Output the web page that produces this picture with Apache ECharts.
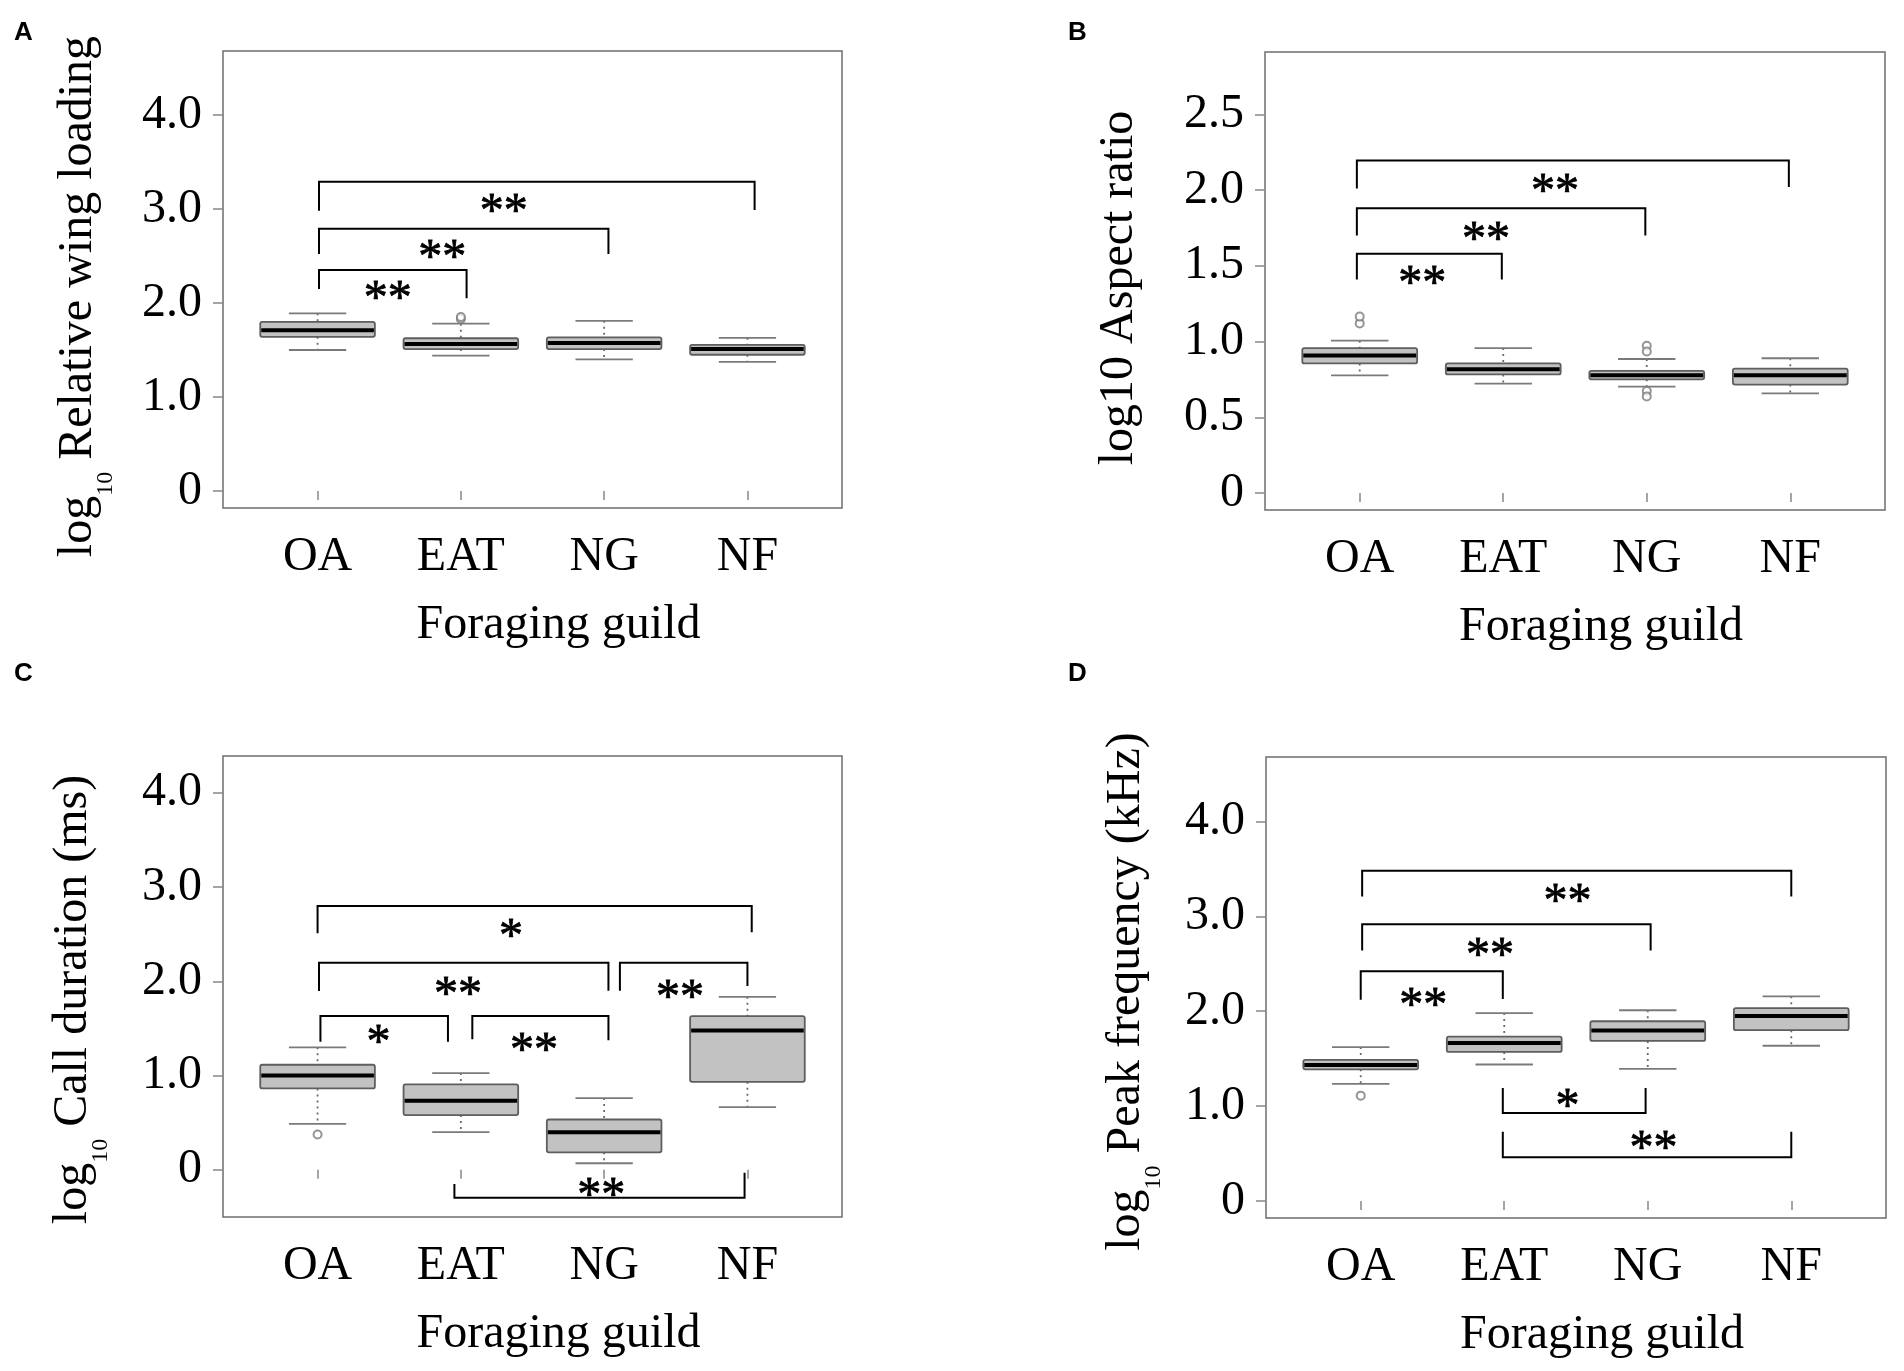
<!DOCTYPE html>
<html>
<head>
<meta charset="utf-8">
<title>Foraging guild boxplots</title>
<script src="https://cdn.jsdelivr.net/npm/echarts@6/dist/echarts.min.js"></script>
<style>
  html, body { margin: 0; padding: 0; background: #fff; }
  #chart { width: 1904px; height: 1371px; }
</style>
</head>
<body>
<div id="chart"></div>
<script>
// categories
const guilds = ['OA', 'EAT', 'NG', 'NF'];

// five-number summaries per guild: [low whisker, Q1, median, Q3, high whisker]
const wingLoading = [
  [1.50, 1.64, 1.71, 1.80, 1.89],
  [1.44, 1.51, 1.565, 1.625, 1.78],
  [1.40, 1.51, 1.575, 1.635, 1.81],
  [1.375, 1.45, 1.51, 1.555, 1.63]
];
const aspectRatio = [
  [0.777, 0.856, 0.908, 0.957, 1.006],
  [0.722, 0.783, 0.818, 0.856, 0.957],
  [0.702, 0.751, 0.777, 0.806, 0.885],
  [0.658, 0.716, 0.777, 0.821, 0.89]
];
const callDuration = [
  [0.488, 0.864, 1.0, 1.115, 1.30],
  [0.40, 0.581, 0.734, 0.906, 1.027],
  [0.07, 0.186, 0.40, 0.534, 0.762],
  [0.665, 0.934, 1.478, 1.631, 1.835]
];
const peakFrequency = [
  [1.235, 1.387, 1.433, 1.488, 1.622],
  [1.438, 1.571, 1.664, 1.733, 1.98],
  [1.392, 1.687, 1.797, 1.894, 2.01],
  [1.636, 1.80, 1.949, 2.032, 2.157]
];

// outliers: [guild position, value]
const wingLoadingOut = [[2, 1.83], [2, 1.85]];
const aspectRatioOut = [[1, 1.12], [1, 1.165], [3, 0.972], [3, 0.934], [3, 0.673], [3, 0.638]];
const callDurationOut = [[1, 0.376]];
const peakFrequencyOut = [[1, 1.11]];

// significance brackets: [x1, x2, bar y, left end y, right end y, text, text x, text y]
const wingLoadingSig = [
  [1.01, 4.05, 3.29, 2.98, 2.99, '**', 2.30, 3.08],
  [1.01, 3.03, 2.79, 2.52, 2.52, '**', 1.87, 2.59],
  [1.01, 2.04, 2.35, 2.15, 2.05, '**', 1.49, 2.16]
];
const aspectRatioSig = [
  [0.98, 3.99, 2.195, 2.01, 2.02, '**', 2.36, 2.06],
  [0.98, 2.99, 1.88, 1.70, 1.70, '**', 1.88, 1.74],
  [0.98, 1.99, 1.58, 1.41, 1.41, '**', 1.435, 1.45]
];
const callDurationSig = [
  [1.0, 4.03, 2.80, 2.51, 2.52, '*', 2.35, 2.58],
  [1.01, 3.03, 2.198, 1.896, 1.90, '**', 1.98, 1.97],
  [3.11, 4.0, 2.198, 1.90, 1.95, '**', 3.53, 1.94],
  [1.02, 1.91, 1.631, 1.36, 1.36, '*', 1.425, 1.455],
  [2.08, 3.03, 1.631, 1.385, 1.375, '**', 2.51, 1.375],
  [1.955, 3.98, -0.297, -0.149, -0.03, '**', 2.98, -0.17]
];
const peakFrequencySig = [
  [1.01, 4.0, 3.48, 3.21, 3.21, '**', 2.44, 3.26],
  [1.01, 3.02, 2.917, 2.64, 2.64, '**', 1.90, 2.69],
  [1.0, 1.99, 2.42, 2.12, 2.13, '**', 1.435, 2.17],
  [1.99, 2.985, 0.926, 1.19, 1.19, '*', 2.44, 1.10],
  [1.99, 4.0, 0.46, 0.73, 0.73, '**', 3.04, 0.66]
];

// y tick positions and labels
const ticksLog = [0, 1, 2, 3, 4];
const ticksLogLabels = ['0', '1.0', '2.0', '3.0', '4.0'];
const ticksAspect = [0, 0.5, 1, 1.5, 2, 2.5];
const ticksAspectLabels = ['0', '0.5', '1.0', '1.5', '2.0', '2.5'];

const SERIF = '"Liberation Serif", "Times New Roman", serif';
const BOX_W = 0.8;
const CAP_W = 0.4;

/* panel layout */
const panels = [
  { grid: { left: 223, top: 51, width: 619, height: 457 }, yMin: -0.18, yMax: 4.68,
    ticks: ticksLog, labels: ticksLogLabels, stats: wingLoading, out: wingLoadingOut, sig: wingLoadingSig,
    name: '{m|log}{s|10}{m| Relative wing loading}', nameGap: 105, namePad: [0, 34, 0, 0], letter: 'A', lx: 14, ly: 20 },
  { grid: { left: 1265, top: 52, width: 620, height: 458 }, yMin: -0.112, yMax: 2.912,
    ticks: ticksAspect, labels: ticksAspectLabels, stats: aspectRatio, out: aspectRatioOut, sig: aspectRatioSig,
    name: '{m|log10 Aspect ratio}', nameGap: 106, namePad: [0, 14, 0, 0], letter: 'B', lx: 1068, ly: 20 },
  { grid: { left: 223, top: 756, width: 619, height: 461 }, yMin: -0.5, yMax: 4.39,
    ticks: ticksLog, labels: ticksLogLabels, stats: callDuration, out: callDurationOut, sig: callDurationSig,
    name: '{m|log}{s|10}{m| Call duration (ms)}', nameGap: 110, namePad: [0, 26, 0, 0], letter: 'C', lx: 14, ly: 661 },
  { grid: { left: 1266, top: 757, width: 620, height: 461 }, yMin: -0.18, yMax: 4.68,
    ticks: ticksLog, labels: ticksLogLabels, stats: peakFrequency, out: peakFrequencyOut, sig: peakFrequencySig,
    name: '{m|log}{s|10}{m| Peak frequency (kHz)}', nameGap: 100, namePad: [0, 8, 0, 0], letter: 'D', lx: 1068, ly: 661 }
];

/* box + whiskers drawn through the axes */
function renderBox(params, api) {
  const x = api.value(0);
  const lo = api.coord([x, api.value(1)]);
  const q1 = api.coord([x, api.value(2)]);
  const md = api.coord([x, api.value(3)]);
  const q3 = api.coord([x, api.value(4)]);
  const hi = api.coord([x, api.value(5)]);
  const w = api.size([BOX_W, 0])[0];
  const cw = api.size([CAP_W, 0])[0];
  const cx = lo[0];
  const whisker = { stroke: '#6a6a6a', lineWidth: 1.8, lineDash: [2, 4] };
  const cap = { stroke: '#7a7a7a', lineWidth: 1.8 };
  return {
    type: 'group',
    children: [
      { type: 'line', shape: { x1: cx, y1: hi[1], x2: cx, y2: q3[1] }, style: whisker },
      { type: 'line', shape: { x1: cx, y1: q1[1], x2: cx, y2: lo[1] }, style: whisker },
      { type: 'line', shape: { x1: cx - cw / 2, y1: hi[1], x2: cx + cw / 2, y2: hi[1] }, style: cap },
      { type: 'line', shape: { x1: cx - cw / 2, y1: lo[1], x2: cx + cw / 2, y2: lo[1] }, style: cap },
      { type: 'rect', shape: { x: cx - w / 2, y: q3[1], width: w, height: q1[1] - q3[1], r: 2 },
        style: { fill: '#c2c2c2', stroke: '#5e5e5e', lineWidth: 1.8 } },
      { type: 'line', shape: { x1: cx - w / 2 + 1, y1: md[1], x2: cx + w / 2 - 1, y2: md[1] },
        style: { stroke: '#000', lineWidth: 4 } }
    ]
  };
}

function makeBracketRender(list) {
  return function (params, api) {
    const b = list[params.dataIndex];
    const p1 = api.coord([b[0], b[3]]);
    const p2 = api.coord([b[0], b[2]]);
    const p3 = api.coord([b[1], b[2]]);
    const p4 = api.coord([b[1], b[4]]);
    const t = api.coord([b[6], b[7]]);
    return {
      type: 'group',
      children: [
        { type: 'polyline', shape: { points: [p1, p2, p3, p4] },
          style: { stroke: '#000', lineWidth: 2, fill: null } },
        { type: 'text', x: t[0], y: t[1] + 12,
          style: { text: b[5], font: '48px ' + SERIF, fill: '#000', stroke: '#000', lineWidth: 0.8,
            align: 'center', verticalAlign: 'middle', textAlign: 'center', textVerticalAlign: 'middle' } }
      ]
    };
  };
}

const option = {
  animation: false,
  backgroundColor: '#fff',
  grid: [],
  xAxis: [],
  yAxis: [],
  series: [],
  graphic: []
};

panels.forEach((p, i) => {
  option.grid.push(Object.assign({ show: true, borderColor: '#6d6d6d', borderWidth: 1.5, backgroundColor: 'transparent' }, p.grid));
  option.xAxis.push({
    type: 'value', gridIndex: i, min: 0.34, max: 4.66,
    axisLine: { show: false },
    splitLine: { show: false },
    axisTick: { show: true, customValues: [1, 2, 3, 4], length: 9, lineStyle: { color: '#888', width: 1.5 } },
    axisLabel: { customValues: [1, 2, 3, 4], margin: 25, color: '#000', fontSize: 48, fontFamily: SERIF,
      formatter: v => guilds[Math.round(v) - 1] },
    name: 'Foraging guild', nameLocation: 'middle', nameGap: 93,
    nameTextStyle: { color: '#000', fontSize: 48, fontFamily: SERIF, padding: [0, 0, 0, 52] }
  });
  option.yAxis.push({
    type: 'value', gridIndex: i, min: p.yMin, max: p.yMax,
    axisLine: { show: false },
    splitLine: { show: false },
    axisTick: { show: true, customValues: p.ticks, length: 10, lineStyle: { color: '#888', width: 1.5 } },
    axisLabel: { customValues: p.ticks, margin: 21, color: '#000', fontSize: 48, fontFamily: SERIF,
      formatter: v => p.labels[p.ticks.indexOf(v)] },
    name: p.name, nameLocation: 'middle', nameRotate: 90, nameGap: p.nameGap,
    nameTextStyle: {
      color: '#000', fontSize: 48, fontFamily: SERIF, padding: p.namePad,
      rich: {
        m: { fontSize: 48, fontFamily: SERIF, color: '#000', lineHeight: 80 },
        s: { fontSize: 24, fontFamily: SERIF, color: '#000', lineHeight: 44, verticalAlign: 'bottom' }
      }
    }
  });
  option.series.push({
    type: 'custom', xAxisIndex: i, yAxisIndex: i,
    renderItem: renderBox,
    encode: { x: 0, y: [1, 2, 3, 4, 5] },
    data: p.stats.map((s, k) => [k + 1].concat(s)),
    z: 2
  });
  option.series.push({
    type: 'scatter', xAxisIndex: i, yAxisIndex: i,
    symbol: 'emptyCircle', symbolSize: 8,
    itemStyle: { color: '#7a7a7a', borderWidth: 1.5 },
    data: p.out,
    z: 3
  });
  option.series.push({
    type: 'custom', xAxisIndex: i, yAxisIndex: i,
    renderItem: makeBracketRender(p.sig),
    encode: { x: 0, y: 2 },
    data: p.sig.map(b => [b[0], b[1], b[2], b[3], b[4]]),
    z: 4
  });
  option.graphic.push({
    type: 'text', left: p.lx, top: p.ly,
    style: { text: p.letter, font: 'bold 26px "Liberation Sans", Arial, sans-serif', fill: '#000' }
  });
});

const chart = echarts.init(document.getElementById('chart'));
chart.setOption(option);
</script>
</body>
</html>
